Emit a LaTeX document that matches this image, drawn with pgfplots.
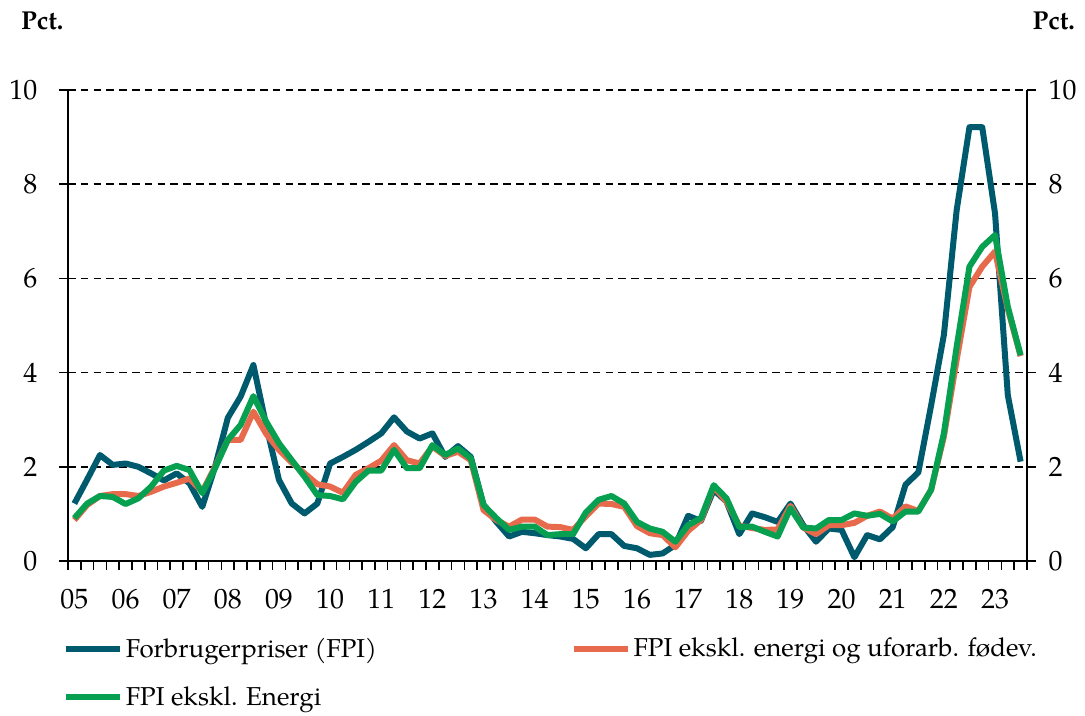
\documentclass[border=0pt]{standalone}
\usepackage{fontspec}
\setmainfont{TeX Gyre Pagella}
\usepackage{pgfplots}
\pgfplotsset{compat=1.18}
\usepackage{pgfplotstable}
\definecolor{cfpi}{HTML}{005A6E}
\definecolor{ccore}{HTML}{E66A4B}
\definecolor{cexe}{HTML}{07A050}

\pgfplotstableread{
i fpi core exe
0 1.22 0.87 0.91
1 1.73 1.19 1.22
2 2.25 1.38 1.38
3 2.04 1.42 1.36
4 2.07 1.42 1.21
5 2.00 1.38 1.33
6 1.86 1.47 1.58
7 1.71 1.58 1.92
8 1.86 1.66 2.02
9 1.65 1.75 1.93
10 1.15 1.47 1.44
11 2.00 2.00 1.97
12 3.04 2.57 2.57
13 3.49 2.57 2.89
14 4.16 3.17 3.50
15 2.88 2.70 2.96
16 1.72 2.36 2.50
17 1.22 2.09 2.14
18 1.01 1.86 1.79
19 1.22 1.63 1.40
20 2.07 1.58 1.38
21 2.21 1.45 1.31
22 2.36 1.83 1.68
23 2.53 1.97 1.92
24 2.71 2.13 1.92
25 3.05 2.46 2.36
26 2.75 2.14 1.97
27 2.60 2.07 1.97
28 2.71 2.43 2.46
29 2.21 2.23 2.25
30 2.44 2.32 2.39
31 2.21 2.14 2.18
32 1.19 1.08 1.19
33 0.83 0.87 0.91
34 0.52 0.73 0.66
35 0.62 0.88 0.73
36 0.59 0.88 0.73
37 0.55 0.73 0.55
38 0.52 0.72 0.57
39 0.47 0.66 0.57
40 0.27 0.95 1.03
41 0.57 1.22 1.30
42 0.57 1.21 1.38
43 0.32 1.15 1.22
44 0.27 0.74 0.83
45 0.13 0.59 0.69
46 0.16 0.55 0.62
47 0.34 0.29 0.41
48 0.96 0.64 0.76
49 0.85 0.87 0.91
50 1.51 1.58 1.61
51 1.26 1.26 1.33
52 0.57 0.75 0.72
53 1.01 0.70 0.73
54 0.93 0.66 0.62
55 0.83 0.67 0.52
56 1.22 1.17 1.12
57 0.76 0.71 0.71
58 0.41 0.57 0.69
59 0.69 0.76 0.87
60 0.66 0.76 0.87
61 0.08 0.81 1.01
62 0.55 0.96 0.96
63 0.46 1.05 1.00
64 0.72 0.90 0.84
65 1.62 1.16 1.05
66 1.88 1.06 1.05
67 3.30 1.51 1.51
68 4.80 2.64 2.71
69 7.45 4.27 4.55
70 9.21 5.82 6.25
71 9.21 6.25 6.67
72 7.38 6.57 6.92
73 3.52 5.35 5.40
74 2.11 4.35 4.37
}\data

\begin{document}
\begin{tikzpicture}[font=\fontsize{13}{15}\selectfont]
\useasboundingbox (-34bp,-77.5bp) rectangle (508.5bp,280.5bp);
\begin{axis}[
  name=main, at={(0,0)}, anchor=south west,
  scale only axis, width=479.5bp, height=235.5bp,
  xmin=-0.5, xmax=74.5, ymin=0, ymax=10,
  axis x line*=bottom, axis y line*=left,
  xtick={-0.5,0.5,...,74.5}, xticklabels={},
  extra x ticks={0,4,...,72},
  extra x tick labels={05,06,07,08,09,10,11,12,13,14,15,16,17,18,19,20,21,22,23},
  extra x tick style={major tick length=0pt},
  ytick={0,2,...,10},
  tick align=outside, major tick length=4.3bp,
  ymajorgrids,
  major grid style={black, dash pattern=on 3.8bp off 2.6bp, line width=0.8bp},
  axis line style={black, line width=0.9bp},
  tick style={black, line width=0.8bp},
  /pgf/number format/assume math mode=true,
  tick label style={font=\fontsize{14}{15}\selectfont},
  xticklabel style={yshift=-10.5bp},
  yticklabel style={xshift=-7.5bp},
  legend columns=2,
  legend style={at={(0,0)}, anchor=north west, xshift=-2.5bp, yshift=-37bp,
    draw=none, fill=none, row sep=10.8bp, inner sep=0pt,
    nodes={inner sep=1.2bp}, cells={anchor=west},
    font=\fontsize{13}{15}\selectfont},
  legend image code/.code={\draw[#1, line width=3bp] (0bp,0bp) -- (27bp,0bp);},
]
\addplot[cfpi, line width=3bp, line join=round] table[x=i, y=fpi] {\data};
\addlegendentry{\makebox[221.5bp][l]{Forbrugerpriser (FPI)}}
\addplot[ccore, line width=3bp, line join=round] table[x=i, y=core] {\data};
\addlegendentry{FPI ekskl. energi og uforarb. fødev.}
\addplot[cexe, line width=3bp, line join=round] table[x=i, y=exe] {\data};
\addlegendentry{FPI ekskl. Energi}
\coordinate (BL) at (rel axis cs:0,0);
\coordinate (TR) at (rel axis cs:1,1);
\coordinate (TL) at (rel axis cs:0,1);
\end{axis}
\begin{axis}[
  at={(0,0)}, anchor=south west,
  scale only axis, width=479.5bp, height=235.5bp,
  xmin=-0.5, xmax=74.5, ymin=0, ymax=10,
  axis y line*=right, axis x line=none,
  ytick={0,2,...,10},
  tick align=outside, major tick length=4.3bp,
  axis line style={black, line width=0.9bp},
  tick style={black, line width=0.8bp},
  /pgf/number format/assume math mode=true,
  tick label style={font=\fontsize{14}{15}\selectfont},
  yticklabel style={xshift=3bp},
]
\addplot[draw=none] coordinates {(0,0)};
\end{axis}
\node[anchor=base west, font=\fontsize{13}{15}\selectfont\bfseries] at ([shift={(-27bp,30bp)}]TL) {Pct.};
\node[anchor=base east, font=\fontsize{13}{15}\selectfont\bfseries] at ([shift={(27.5bp,30bp)}]TR) {Pct.};
\end{tikzpicture}
\end{document}
